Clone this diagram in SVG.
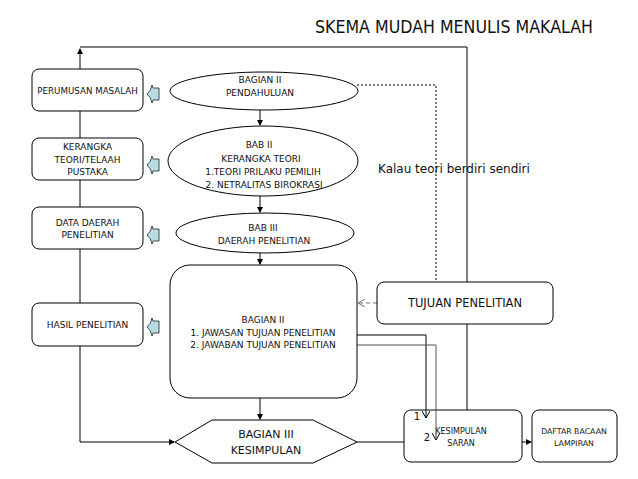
<svg xmlns="http://www.w3.org/2000/svg" width="638" height="479" viewBox="0 0 638 479">
<defs>
<marker id="ah" markerWidth="6" markerHeight="6" refX="5" refY="3" orient="auto" markerUnits="userSpaceOnUse"><path d="M0,0 L6,3 L0,6 Z" fill="#000"/></marker>
<marker id="av" markerWidth="8" markerHeight="8" refX="7" refY="4" orient="auto" markerUnits="userSpaceOnUse"><path d="M0,0 L7,4 L0,8" fill="none" stroke="#000" stroke-width="1"/></marker>
<marker id="ag" markerWidth="8" markerHeight="8" refX="7" refY="4" orient="auto" markerUnits="userSpaceOnUse"><path d="M0,0 L7,4 L0,8" fill="none" stroke="#777" stroke-width="1"/></marker>
</defs>
<style>
text{font-family:"DejaVu Sans","Verdana",sans-serif;fill:#111;text-anchor:middle}
.n{fill:#fff;stroke:#000;stroke-width:1}
.c{fill:none;stroke:#000;stroke-width:1}
.s9{font-size:9px}
.s8{font-size:8px}
.ba{fill:#b7dde4;stroke:#222;stroke-width:0.8}
</style>
<rect width="638" height="479" fill="#fff"/>
<text x="315" y="33" style="font-size:18px;text-anchor:start" textLength="278" lengthAdjust="spacingAndGlyphs">SKEMA MUDAH MENULIS MAKALAH</text>
<g id="kesimpulan">
<rect class="n" x="404" y="410" width="118" height="52" rx="7"/>
<text class="s8" x="461" y="434">KESIMPULAN</text>
<text class="s8" x="461" y="446">SARAN</text>
</g>
<g id="connectors">
<path class="c" d="M467,410 V47 H80"/>
<line class="c" x1="80" y1="442" x2="80" y2="49" marker-end="url(#ah)"/>
<line class="c" x1="80" y1="442" x2="174" y2="442" marker-end="url(#ah)"/>
<line class="c" x1="260" y1="110" x2="260" y2="125" marker-end="url(#ah)"/>
<line class="c" x1="260" y1="196" x2="260" y2="212" marker-end="url(#ah)"/>
<line class="c" x1="260" y1="253" x2="260" y2="264" marker-end="url(#ah)"/>
<line class="c" x1="260" y1="398" x2="260" y2="419" marker-end="url(#ah)"/>
<line class="c" x1="357" y1="442" x2="404" y2="442"/>
<line class="c" x1="522" y1="442" x2="531" y2="442" marker-end="url(#ah)"/>
<path class="c" d="M357,85 H436 V282" stroke-dasharray="2,2"/>
<line x1="377" y1="303" x2="358" y2="303" stroke="#777" stroke-width="1" stroke-dasharray="4,3" marker-end="url(#ag)"/>
<path class="c" d="M357,335 H426 V418" marker-end="url(#av)"/>
<path d="M357,345 H436 V440" fill="none" stroke="#555" stroke-width="1" marker-end="url(#av)"/>
</g>
<g id="perumusan">
<rect class="n" x="32" y="69" width="111" height="42" rx="7"/>
<text class="s9" x="87.5" y="94" style="font-size:8.7px">PERUMUSAN MASALAH</text>
<path class="ba" d="M159,88 H153 L152,85 Q151,91 147,94 Q151,97 152,103 L153,100 H159 Z"/>
</g>
<g id="kerangka">
<rect class="n" x="32" y="138" width="111" height="42" rx="7"/>
<text class="s9" x="87.5" y="150">KERANGKA</text>
<text class="s9" x="87.5" y="163">TEORI/TELAAH</text>
<text class="s9" x="87.5" y="175">PUSTAKA</text>
<path class="ba" d="M159,159 H153 L152,156 Q151,162 147,165 Q151,168 152,174 L153,171 H159 Z"/>
</g>
<g id="datadaerah">
<rect class="n" x="32" y="207" width="111" height="42" rx="7"/>
<text class="s9" x="87.5" y="226">DATA DAERAH</text>
<text class="s9" x="87.5" y="238">PENELITIAN</text>
<path class="ba" d="M159,229 H153 L152,226 Q151,232 147,235 Q151,238 152,244 L153,241 H159 Z"/>
</g>
<g id="hasil">
<rect class="n" x="32" y="303" width="111" height="43" rx="7"/>
<text class="s9" x="87.5" y="328">HASIL PENELITIAN</text>
<path class="ba" d="M159,321 H153 L152,318 Q151,324 147,327 Q151,330 152,336 L153,333 H159 Z"/>
</g>
<g id="pendahuluan">
<ellipse class="n" cx="264" cy="91" rx="94" ry="19"/>
<text class="s9" x="260" y="83">BAGIAN II</text>
<text class="s9" x="260" y="96">PENDAHULUAN</text>
</g>
<g id="kerangkateori">
<ellipse class="n" cx="263" cy="161" rx="95" ry="35"/>
<text class="s9" x="259" y="148">BAB II</text>
<text class="s9" x="261" y="162">KERANGKA TEORI</text>
<text class="s9" x="263" y="175">1.TEORI PRILAKU PEMILIH</text>
<text class="s9" x="264" y="188">2. NETRALITAS BIROKRASI</text>
</g>
<g id="daerah">
<ellipse class="n" cx="265" cy="233" rx="89" ry="20"/>
<text class="s9" x="263" y="231">BAB III</text>
<text class="s9" x="264" y="244">DAERAH PENELITIAN</text>
</g>
<g id="bagian2">
<rect class="n" x="170" y="265" width="187" height="133" rx="20"/>
<text class="s9" x="263" y="323">BAGIAN II</text>
<text class="s9" x="263" y="336">1. JAWASAN TUJUAN PENELITIAN</text>
<text class="s9" x="263" y="348">2. JAWABAN TUJUAN PENELITIAN</text>
</g>
<g id="tujuan">
<rect class="n" x="377" y="282" width="176" height="42" rx="7"/>
<text x="465" y="307" style="font-size:11.5px">TUJUAN PENELITIAN</text>
</g>
<g id="bagian3">
<polygon class="n" points="175,442 212,420 313,420 357,442 313,463 212,463"/>
<text x="266" y="438" style="font-size:11px">BAGIAN III</text>
<text x="266" y="454" style="font-size:11px">KESIMPULAN</text>
</g>
<g id="daftar">
<rect class="n" x="532" y="410" width="85" height="52" rx="7"/>
<text x="574" y="434" style="font-size:7.8px">DAFTAR BACAAN</text>
<text x="574" y="446" style="font-size:7.8px">LAMPIRAN</text>
</g>
<text x="417" y="420" style="font-size:10px">1</text>
<text x="427" y="441" style="font-size:10px">2</text>
<text x="378" y="173" style="font-size:12px;text-anchor:start">Kalau teori berdiri sendiri</text>
</svg>
